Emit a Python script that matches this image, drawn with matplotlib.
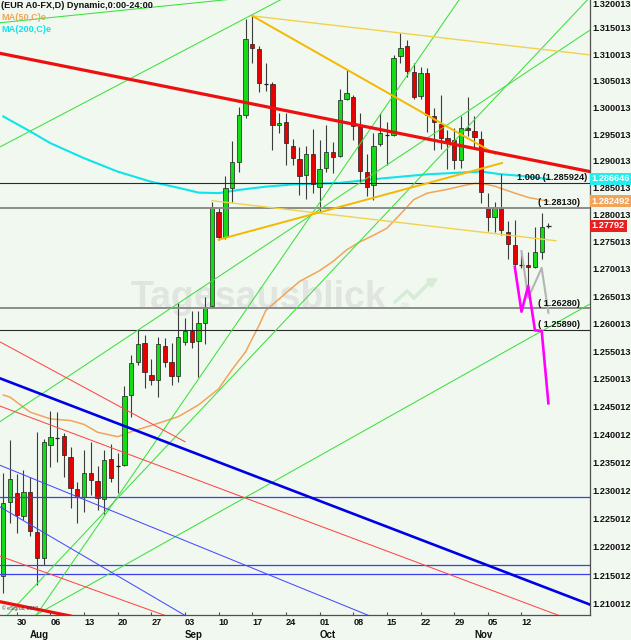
import numpy as np
import matplotlib
matplotlib.use("Agg")
import matplotlib.pyplot as plt
import matplotlib.transforms as mtransforms
from matplotlib.ticker import NullLocator

plt.rcParams['font.family'] = ['Liberation Sans', 'DejaVu Sans']
plt.rcParams['font.size'] = 6.6
plt.rcParams['font.weight'] = 'bold'

# EUR/USD daily candles, bar 0 = 26 Jul 2012 ... bar 81 = 16 Nov 2012
opens = [1.2149, 1.2280, 1.2296, 1.2255, 1.2298, 1.2226, 1.2181, 1.2381, 1.2395, 1.2397,
         1.2360, 1.2303, 1.2289, 1.2331, 1.2317, 1.2285, 1.2356, 1.2342, 1.2345, 1.2471,
         1.2531, 1.2565, 1.2507, 1.2498, 1.2560, 1.2530, 1.2506, 1.2566, 1.2587, 1.2569,
         1.2602, 1.2633, 1.2805, 1.2758, 1.2849, 1.2898, 1.2986, 1.3119, 1.3111, 1.3045,
         1.3044, 1.2967, 1.2973, 1.2928, 1.2903, 1.2874, 1.2913, 1.2852, 1.2886, 1.2916,
         1.2909, 1.3016, 1.3020, 1.2965, 1.2880, 1.2855, 1.2931, 1.2950, 1.2948, 1.3096,
         1.3115, 1.3067, 1.3021, 1.3064, 1.2984, 1.2969, 1.2943, 1.2939, 1.2902, 1.2962,
         1.2956, 1.2941, 1.2812, 1.2796, 1.2812, 1.2768, 1.2745, 1.2708, 1.2707, 1.2704,
         1.2732, 1.2780]
highs = [1.2331, 1.2390, 1.2329, 1.2337, 1.2324, 1.2405, 1.2392, 1.2442, 1.2440, 1.2403,
         1.2378, 1.2315, 1.2372, 1.2387, 1.2344, 1.2372, 1.2383, 1.2367, 1.2487, 1.2543,
         1.2589, 1.2580, 1.2536, 1.2575, 1.2574, 1.2565, 1.2637, 1.2610, 1.2624, 1.2623,
         1.2649, 1.2824, 1.2812, 1.2871, 1.2937, 1.3000, 1.3168, 1.3173, 1.3115, 1.3084,
         1.3047, 1.2990, 1.2990, 1.2941, 1.2926, 1.2928, 1.2959, 1.2938, 1.2967, 1.2936,
         1.3034, 1.3070, 1.3023, 1.2990, 1.2913, 1.2952, 1.2990, 1.2973, 1.3099, 1.3140,
         1.3128, 1.3083, 1.3077, 1.3074, 1.2998, 1.3024, 1.2958, 1.2961, 1.2983, 1.3020,
         1.2983, 1.2955, 1.2841, 1.2824, 1.2876, 1.2789, 1.2790, 1.2732, 1.2732, 1.2778,
         1.2803, 1.2784]
lows = [1.2119, 1.2243, 1.2225, 1.2248, 1.2220, 1.2133, 1.2169, 1.2342, 1.2351, 1.2324,
        1.2269, 1.2243, 1.2262, 1.2292, 1.2266, 1.2258, 1.2315, 1.2296, 1.2344, 1.2432,
        1.2525, 1.2484, 1.2489, 1.2467, 1.2522, 1.2489, 1.2494, 1.2561, 1.2555, 1.2503,
        1.2563, 1.2628, 1.2754, 1.2756, 1.2823, 1.2880, 1.2981, 1.3083, 1.3029, 1.3031,
        1.2920, 1.2952, 1.2892, 1.2892, 1.2837, 1.2829, 1.2841, 1.2804, 1.2880, 1.2877,
        1.2908, 1.3014, 1.2939, 1.2859, 1.2835, 1.2827, 1.2928, 1.2892, 1.2946, 1.3084,
        1.3057, 1.3015, 1.3015, 1.2953, 1.2920, 1.2923, 1.2884, 1.2884, 1.2886, 1.2946,
        1.2926, 1.2822, 1.2770, 1.2769, 1.2763, 1.2718, 1.2692, 1.2701, 1.2665, 1.2701,
        1.2718, 1.2776]
closes = [1.2278, 1.2321, 1.2257, 1.2298, 1.2228, 1.2181, 1.2387, 1.2395, 1.2394, 1.2363,
          1.2305, 1.2289, 1.2331, 1.2319, 1.2287, 1.2354, 1.2322, 1.2344, 1.2469, 1.2528,
          1.2563, 1.2513, 1.2498, 1.2563, 1.2531, 1.2506, 1.2575, 1.2587, 1.2566, 1.2601,
          1.2631, 1.2814, 1.2758, 1.2849, 1.2897, 1.2986, 1.3129, 1.3113, 1.3045, 1.3044,
          1.2967, 1.2970, 1.2933, 1.2905, 1.2872, 1.2913, 1.2857, 1.2884, 1.2916, 1.2908,
          1.3014, 1.3028, 1.2965, 1.2881, 1.2852, 1.2928, 1.2952, 1.2948, 1.3094, 1.3113,
          1.3069, 1.3020, 1.3064, 1.2986, 1.2972, 1.2942, 1.2936, 1.2902, 1.2961, 1.2957,
          1.2944, 1.2843, 1.2796, 1.2812, 1.2772, 1.2746, 1.2709, 1.2707, 1.2704, 1.2731,
          1.2778, 1.27792]

# moving averages, read at selected bars
ma50_idx = [0, 1, 4, 7, 10, 12, 14, 17, 19, 23, 26, 29, 32, 34, 36, 38, 39, 42, 44, 47,
            49, 51, 53, 55, 57, 59, 61, 63, 66, 68, 70, 71, 73, 76, 78, 81]
ma50_val = [1.2471, 1.2467, 1.2440, 1.2428, 1.2425, 1.2418, 1.2404, 1.2396, 1.2405, 1.2420,
            1.2432, 1.2453, 1.2482, 1.2517, 1.2549, 1.2597, 1.2624, 1.2656, 1.2677, 1.2697,
            1.2714, 1.2735, 1.2750, 1.2762, 1.2775, 1.2801, 1.2828, 1.2840, 1.2847, 1.2853,
            1.2858, 1.2858, 1.2853, 1.2840, 1.2832, 1.2825]
ma200_idx = [0, 4, 7, 12, 17, 22, 26, 29, 32, 35, 39, 43, 50, 56, 63, 71, 74, 77, 81]
ma200_val = [1.2983, 1.2955, 1.2933, 1.2905, 1.2880, 1.2861, 1.2850, 1.2841, 1.2840, 1.2846,
             1.2852, 1.2856, 1.2859, 1.2867, 1.2875, 1.2880, 1.2875, 1.2872, 1.2866]
last_values = [1.286646, 1.282492, 1.27792]
last_texts = ["1.286646", "1.282492", "1.27792"]

week_idx = [2, 7, 12, 17, 22, 27, 32, 37, 42, 47, 52, 57, 62, 67, 72, 77]
week_labels = ["30", "06", "13", "20", "27", "03", "10", "17", "24", "01", "08", "15",
               "22", "29", "05", "12"]
month_idx = [4, 27, 47, 70]
month_labels = ["Aug", "Sep", "Oct", "Nov"]

ytick_labels = ["1.210012", "1.215012", "1.220012", "1.225012", "1.230012", "1.235012",
                "1.240012", "1.245012", "1.250013", "1.255013", "1.260013", "1.265013",
                "1.270013", "1.275013", "1.280013", "1.285013", "1.290013", "1.295013",
                "1.300013", "1.305013", "1.310013", "1.315013"]
top_label = "1.320013"

# horizontal levels
fib_levels = [1.285924, 1.28130, 1.26280, 1.25890]
fib_texts = ["1.000 (1.285924)", "( 1.28130)", "( 1.26280)", "( 1.25890)"]
fib_text_x = [76.3, 79.4, 79.4, 79.4]
blue_levels = [1.2288, 1.2168, 1.2152]

# drawn trend lines: ((bar0, bar1), (price0, price1))
red_thick = [((-0.49, 87.18), (1.3102, 1.2880)), ((-0.49, 10.0), (1.2104, 1.2079))]
red_thin = [((-0.49, 83.0), (1.2451, 1.2078)), ((-0.49, 27.0), (1.2567, 1.2387)),
            ((-0.49, 24.5), (1.2184, 1.2078))]
blue_thick = [((-0.49, 87.18), (1.2501, 1.2099))]
blue_thin = [((-0.49, 54.5), (1.2345, 1.2079)), ((-0.49, 27.3), (1.2271, 1.2078))]
green_lines = [((-0.49, 34.0), (1.3160, 1.3205)), ((-0.49, 41.4), (1.2926, 1.3205)),
               ((-0.49, 87.18), (1.2423, 1.3146)), ((4.86, 67.8), (1.2080, 1.3205)),
               ((0.55, 86.9), (1.2080, 1.3205)), ((4.7, 87.18), (1.2080, 1.2636))]
gold_thick = [((37, 73.1), (1.3173, 1.2913)), ((32, 74.1), (1.2754, 1.2896))]
gold_thin = [((37, 87.18), (1.3173, 1.3099)), ((31, 82.1), (1.2826, 1.2752))]

# projected paths
proj_idx = [76, 77, 78, 79, 80, 81]
proj_val = [1.2704, 1.2622, 1.2669, 1.2588, 1.2587, 1.2456]
alt_idx = [77, 78, 80, 81]
alt_val = [1.2733, 1.2647, 1.2702, 1.2620]

BG = '#f0f8f0'
fig = plt.figure(figsize=(6.31, 6.40), dpi=100, facecolor=BG)
ax = fig.add_axes([0, 25 / 640, 590 / 631, 615 / 640])
ax.set_facecolor(BG)
ax.set_yscale('log')
ax.set_xlim(-0.49, 87.18)
ax.set_ylim(1.20808, 1.32033)

# watermark
ax.text(131 / 590, 1 - 308 / 615, "Tagesausblick", transform=ax.transAxes, fontsize=27,
        color='#e0e5e0', ha='left', va='baseline', zorder=0.5)
zig = np.array([[395, 302], [407, 291], [414, 298], [428, 284]])
ax.plot(zig[:, 0] / 590, 1 - zig[:, 1] / 615, transform=ax.transAxes, color='#d6ecd6',
        lw=2.5, zorder=0.5, solid_joinstyle='miter')
ax.annotate('', xy=(441 / 590, 1 - 276 / 615), xytext=(428 / 590, 1 - 284 / 615),
            xycoords='axes fraction',
            arrowprops=dict(arrowstyle='-|>', color='#d6ecd6', lw=2.5, mutation_scale=12),
            zorder=0.5)
ax.text(400 / 590, 1 - 307 / 615, ".de", transform=ax.transAxes, fontsize=5,
        color='#dfe6df', zorder=0.5)

# moving averages
ax.plot(ma200_idx, ma200_val, color='#10e4ea', lw=1.5, zorder=2)
ax.plot(ma50_idx, ma50_val, color='#f2a45a', lw=1.1, zorder=2)

# candles
idx = np.arange(len(opens))
o = np.array(opens)
c = np.array(closes)
h = np.array(highs)
l = np.array(lows)
doji = np.abs(c - o) < 0.00025
up = c >= o
ax.vlines(idx, l, h, color='#3c3c3c', lw=0.8, zorder=3)
b = ~doji
colors = np.where(up, '#14dc14', '#e60000')
ax.bar(idx[b], (c - o)[b], bottom=o[b], width=0.64, color=colors[b],
       edgecolor='#1e1e1e', linewidth=0.5, zorder=4)
ax.hlines(c[doji], idx[doji] - 0.32, idx[doji] + 0.32, color='#1e1e1e', lw=0.9, zorder=4)

# horizontal levels
for lev, col, lw in zip(fib_levels, ['#2a2a2a', '#8c8c8c', '#8c8c8c', '#2a2a2a'],
                        [0.8, 1.4, 1.4, 0.8]):
    ax.axhline(lev, color=col, lw=lw, zorder=5)
for lev in blue_levels:
    ax.axhline(lev, color='#3c3cf0', lw=0.9, zorder=5)
for x, lev, txt in zip(fib_text_x, fib_levels, fib_texts):
    ax.text(x, lev * 1.0001, txt, ha='left', va='bottom', color='#111111', zorder=7)

# trend lines
for xs, ps in green_lines:
    ax.plot(xs, ps, color='#3ee03e', lw=0.75, zorder=5)
for xs, ps in red_thin:
    ax.plot(xs, ps, color='#ff4848', lw=0.75, zorder=5)
for xs, ps in blue_thin:
    ax.plot(xs, ps, color='#4a4aff', lw=0.75, zorder=5)
for xs, ps in gold_thin:
    ax.plot(xs, ps, color='#f2d24a', lw=1.0, zorder=5)
for xs, ps in gold_thick:
    ax.plot(xs, ps, color='#f5b800', lw=1.4, zorder=5)
for xs, ps in blue_thick:
    ax.plot(xs, ps, color='#0000e6', lw=1.9, zorder=6)
for xs, ps in red_thick:
    ax.plot(xs, ps, color='#ee1010', lw=2.3, zorder=6)

ax.plot(alt_idx, alt_val, color='#b4b4b4', lw=1.5, zorder=6)
ax.plot(proj_idx, proj_val, color='#ff00ff', lw=1.9, zorder=6)

# axes styling
for side in ['left', 'top']:
    ax.spines[side].set_visible(False)
for side in ['right', 'bottom']:
    ax.spines[side].set_color('#505050')
    ax.spines[side].set_linewidth(0.9)

ax.yaxis.tick_right()
ax.set_yticks([float(s) for s in ytick_labels], ytick_labels)
ax.yaxis.set_minor_locator(NullLocator())
ax.tick_params(axis='y', length=0, pad=1.6, labelsize=6.6, labelcolor='#111111')
yt = mtransforms.blended_transform_factory(ax.transAxes, ax.transData)
ax.text(1.0035, 1.0, top_label, transform=ax.transAxes, ha='left', va='top',
        color='#111111', fontsize=6.6)

ax.set_xticks(week_idx, week_labels)
ax.tick_params(axis='x', direction='in', length=2, pad=2.5, color='#505050',
               labelsize=6.6, labelcolor='#111111')
for lbl in ax.get_xticklabels():
    lbl.set_horizontalalignment('left')
xt = mtransforms.blended_transform_factory(ax.transData, ax.transAxes)
for m, name in zip(month_idx, month_labels):
    ax.text(m, -20 / 615, name, transform=xt, ha='left', va='center', fontsize=7,
            color='#111111')

# header texts
ax.text(0.002, 1 - 6 / 615, "(EUR A0-FX,D) Dynamic,0:00-24:00", transform=ax.transAxes,
        va='center', ha='left', color='#111111', fontsize=6.6, zorder=8)
ax.text(0.002, 1 - 17.5 / 615, "MA(50,C)e", transform=ax.transAxes, va='center',
        ha='left', color='#f2a45a', fontsize=6.6, zorder=8)
ax.text(0.002, 1 - 30 / 615, "MA(200,C)e", transform=ax.transAxes, va='center',
        ha='left', color='#10e4ea', fontsize=6.6, zorder=8)
ax.text(0.004, 5 / 615, "\u00a9 eSignal, 2012", transform=ax.transAxes, fontsize=3.6,
        color='#404040', weight='normal', zorder=8)

# last value boxes
for val, txt, fc in zip(last_values, last_texts, ['#22eef0', '#f2a45a', '#e82020']):
    ax.text(1.003, val, txt, transform=yt, ha='left', va='center', color='white',
            fontsize=6.6, zorder=9,
            bbox=dict(boxstyle='square,pad=0.18', fc=fc, ec='none'))

fig.savefig('out.png', dpi=100, facecolor=BG)
